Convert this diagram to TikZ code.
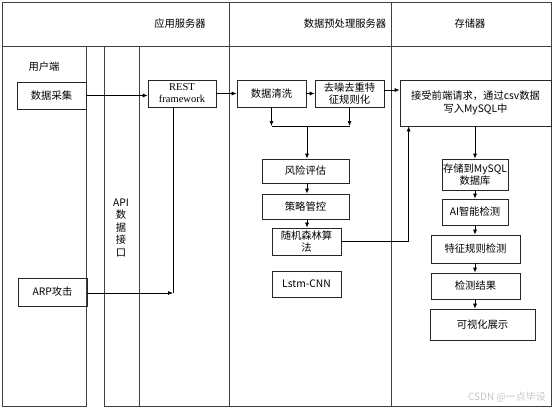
\documentclass[tikz,border=0pt]{standalone}
\usepackage{fontspec}
\setmainfont{Noto Sans CJK SC}
\newfontfamily\restfont{Liberation Serif}
\usetikzlibrary{arrows.meta,calc}

\begin{document}
\begin{tikzpicture}[x=1pt,y=-1pt,
    lane/.style={draw=black!75,line width=0.7pt},
    lbl/.style={font=\fontsize{10.3}{12.5}\selectfont},
    box/.style={draw=black!85,line width=0.7pt,align=center,inner sep=1pt,font=\fontsize{10.3}{12.5}\selectfont},
    arr/.style={-{Latex[length=5pt,width=4pt]},line width=0.7pt}]
    \useasboundingbox (0,0) rectangle (553,409);
    % header row and swimlanes
    \draw[lane] (2,2) rectangle (551,46);
    \draw[lane] (229,2) -- (229,46) (391,2) -- (391,46);
    \draw[lane] (2,46) rectangle (86,406);
    \draw[lane] (104,46) rectangle (229,406);
    \draw[lane] (104,46) rectangle (139,406);
    \draw[lane] (229,46) rectangle (391,406);
    \draw[lane] (391,46) rectangle (551,406);
    \node[lbl] (hApp) at (180,24) {应用服务器};
    \node[lbl] (hPre) at (345,24) {数据预处理服务器};
    \node[lbl] (hStore) at (470,24) {存储器};
    \node[lbl] (hUser) at (44,67) {用户端};
    \node[lbl,align=center] (api) at (121,228) {API\\数\\据\\接\\口};

    % user side
    \node[box,minimum width=69pt,minimum height=27pt] (caiji) at (51.5,95.5) {数据采集};
    \node[box,minimum width=69pt,minimum height=28pt] (arp) at (52.5,292) {ARP攻击};
    % app server
    \node[box,minimum width=68pt,minimum height=27pt,font=\fontsize{10.5}{12}\selectfont] (rest) at (182,93.5) {\restfont REST\\\restfont framework};
    % preprocessing
    \node[box,minimum width=69pt,minimum height=27pt] (qingxi) at (271.5,93.5) {数据清洗};
    \node[box,minimum width=69pt,minimum height=27pt] (quzao) at (349.5,93.5) {去噪去重特\\征规则化};
    \node[box,minimum width=87pt,minimum height=24pt] (fengxian) at (305.5,171) {风险评估};
    \node[box,minimum width=87pt,minimum height=25pt] (celue) at (305.5,206.5) {策略管控};
    \node[box,minimum width=69pt,minimum height=27pt] (senlin) at (306.5,241.5) {随机森林算\\法};
    \node[box,minimum width=69pt,minimum height=26pt] (lstm) at (306.5,284) {Lstm-CNN};
    % storage
    \node[box,minimum width=151pt,minimum height=46pt] (jieshou) at (475.5,103) {接受前端请求，通过csv数据\\写入MySQL中};
    \node[box,minimum width=66pt,minimum height=31pt] (cunchu) at (475,174.5) {存储到MySQL\\数据库};
    \node[box,minimum width=66pt,minimum height=26pt] (ai) at (475,212) {AI智能检测};
    \node[box,minimum width=89pt,minimum height=28pt] (tezheng) at (475.5,249) {特征规则检测};
    \node[box,minimum width=89pt,minimum height=26pt] (jieguo) at (475.5,286) {检测结果};
    \node[box,minimum width=105pt,minimum height=31pt] (keshi) at (482.5,324.5) {可视化展示};
    \node[text=black!22,font=\fontsize{10}{12}\selectfont] (wm) at (507,397) {CSDN @一点毕设};

    % connectors
    \coordinate (hub) at (307,126);
    \coordinate (tap) at (173,293);
    \draw[arr] (caiji.east) -- (caiji.east -| rest.west);
    \draw[arr] (rest) -- (qingxi);
    \draw[arr] (qingxi) -- (quzao);
    \draw[arr] ([yshift=3.5pt]quzao.east) -- ([yshift=3.5pt]quzao.east -| jieshou.west);
    \draw[arr] (qingxi.south) -- (qingxi.south |- hub);
    \draw[arr] (quzao.south) -- (quzao.south |- hub);
    \draw (qingxi.south |- hub) -- (quzao.south |- hub);
    \draw[arr] (hub) -- (hub |- fengxian.north);
    \draw[arr] (fengxian.south -| hub) -- (hub |- celue.north);
    \draw[arr] (celue.south -| hub) -- (hub |- senlin.north);
    \draw[arr] (senlin.east) -| ([xshift=9pt]jieshou.south west);
    \draw ([xshift=-9pt]rest.south) -- (tap);
    \draw[arr] (arp.east |- tap) -- (tap);
    \draw[arr] (jieshou.south -| cunchu) -- (cunchu.north);
    \draw[arr] (cunchu) -- (ai);
    \draw[arr] (ai.south) -- (ai.south |- tezheng.north);
    \draw[arr] (tezheng.south -| ai) -- (ai |- jieguo.north);
    \draw[arr] (jieguo.south -| ai) -- (ai |- keshi.north);
\end{tikzpicture}
\end{document}
